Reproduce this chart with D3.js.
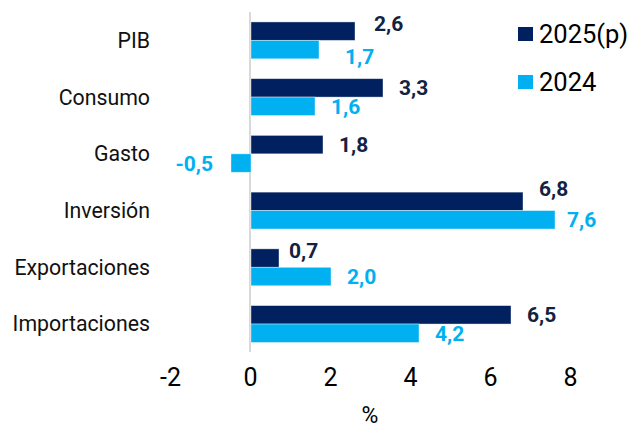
<!DOCTYPE html>
<html>
<head>
<meta charset="utf-8">
<script src="https://cdn.jsdelivr.net/npm/d3@7"></script>
<style>
  body { margin: 0; background: #fff; }
  svg { font-family: Roboto, "Noto Sans", sans-serif; display: block; }
</style>
</head>
<body>
<div id="chart"></div>
<script>
// data
const categories = ["PIB", "Consumo", "Gasto", "Inversión", "Exportaciones", "Importaciones"];
const series = ["2025(p)", "2024"];
const values2025 = [2.6, 3.3, 1.8, 6.8, 0.7, 6.5];
const values2024 = [1.7, 1.6, -0.5, 7.6, 2.0, 4.2];
const xTicks = [-2, 0, 2, 4, 6, 8];

const colors = { "2025(p)": "#002060", "2024": "#00b0f0" };
const labelColors = { "2025(p)": "#13233f", "2024": "#00b0f0" };

// hand placed label nudges, like in the original
const nudge = {
    "PIB": [[3, -8], [10, 7]],
    "Inversión": [[0, -13], [-4, 0]],
    "Exportaciones": [[-6, -8], [0, 0]]
};

var width = 631, height = 429;

var svg = d3.select("#chart")
    .append("svg")
    .attr("width", width)
    .attr("height", height);

var x = d3.scaleLinear().domain([-2, 8]).range([170, 570]);

var y = d3.scaleBand()
    .domain(categories)
    .range([12, 352.4])
    .paddingInner(0.35)
    .paddingOuter(0.175);

var ySub = d3.scaleBand()
    .domain(series)
    .range([0, y.bandwidth()]);

var rows = [];
categories.forEach((c, i) => {
    rows.push({ cat: c, s: "2025(p)", v: values2025[i], k: 0 });
    rows.push({ cat: c, s: "2024", v: values2024[i], k: 1 });
});

// zero line
svg.append("line")
    .attr("x1", x(0)).attr("x2", x(0))
    .attr("y1", 12).attr("y2", 352)
    .attr("stroke", "#d9d9d9")
    .attr("stroke-width", 2);

// bars
svg.append("g")
    .selectAll("rect")
    .data(rows)
    .join("rect")
    .attr("x", d => x(Math.min(0, d.v)) + 1)
    .attr("y", d => y(d.cat) + ySub(d.s))
    .attr("width", d => Math.abs(x(d.v) - x(0)))
    .attr("height", ySub.bandwidth())
    .attr("fill", d => colors[d.s])
    .attr("stroke", "#fff")
    .attr("stroke-opacity", 0.5)
    .attr("stroke-width", 0.8);

// value labels
svg.append("g")
    .selectAll("text")
    .data(rows)
    .join("text")
    .attr("x", d => {
        var n = nudge[d.cat] ? nudge[d.cat][d.k][0] : 0;
        return d.v < 0 ? x(d.v) - 17 : x(d.v) + 17 + n;
    })
    .attr("y", d => {
        var n = nudge[d.cat] ? nudge[d.cat][d.k][1] : 0;
        return y(d.cat) + ySub(d.s) + ySub.bandwidth() / 2 + n;
    })
    .attr("dy", "0.36em")
    .attr("text-anchor", d => d.v < 0 ? "end" : "start")
    .attr("font-size", 21)
    .attr("font-weight", "bold")
    .attr("fill", d => labelColors[d.s])
    .text(d => d3.format(".1f")(d.v).replace(".", ",").replace("−", "-"));

// category labels
svg.append("g")
    .selectAll("text")
    .data(categories)
    .join("text")
    .attr("x", 150)
    .attr("y", d => y(d) + y.bandwidth() / 2)
    .attr("dy", "0.35em")
    .attr("text-anchor", "end")
    .attr("font-size", 21.3)
    .attr("fill", "#111")
    .text(d => d);

// x axis, labels only
var xAxis = svg.append("g")
    .attr("transform", "translate(0,368)")
    .call(d3.axisBottom(x).tickValues(xTicks).tickSize(0).tickPadding(0)
        .tickFormat(d => d < 0 ? "-" + Math.abs(d) : d));
xAxis.select(".domain").remove();
xAxis.selectAll("text")
    .attr("font-family", "Roboto, sans-serif")
    .attr("font-size", 25)
    .attr("fill", "#000")
    .attr("dy", "0.71em");

svg.append("text")
    .attr("x", 370)
    .attr("y", 423)
    .attr("text-anchor", "middle")
    .attr("font-size", 23)
    .attr("fill", "#000")
    .text("%");

// legend
var legend = svg.append("g")
    .selectAll("g")
    .data(series)
    .join("g")
    .attr("transform", (d, i) => "translate(518," + (27 + i * 48) + ")");

legend.append("rect")
    .attr("width", 15)
    .attr("height", 14)
    .attr("fill", d => colors[d]);

legend.append("text")
    .attr("x", 21)
    .attr("y", 16)
    .attr("font-size", 25.5)
    .attr("fill", "#000")
    .text(d => d);
</script>
</body>
</html>
